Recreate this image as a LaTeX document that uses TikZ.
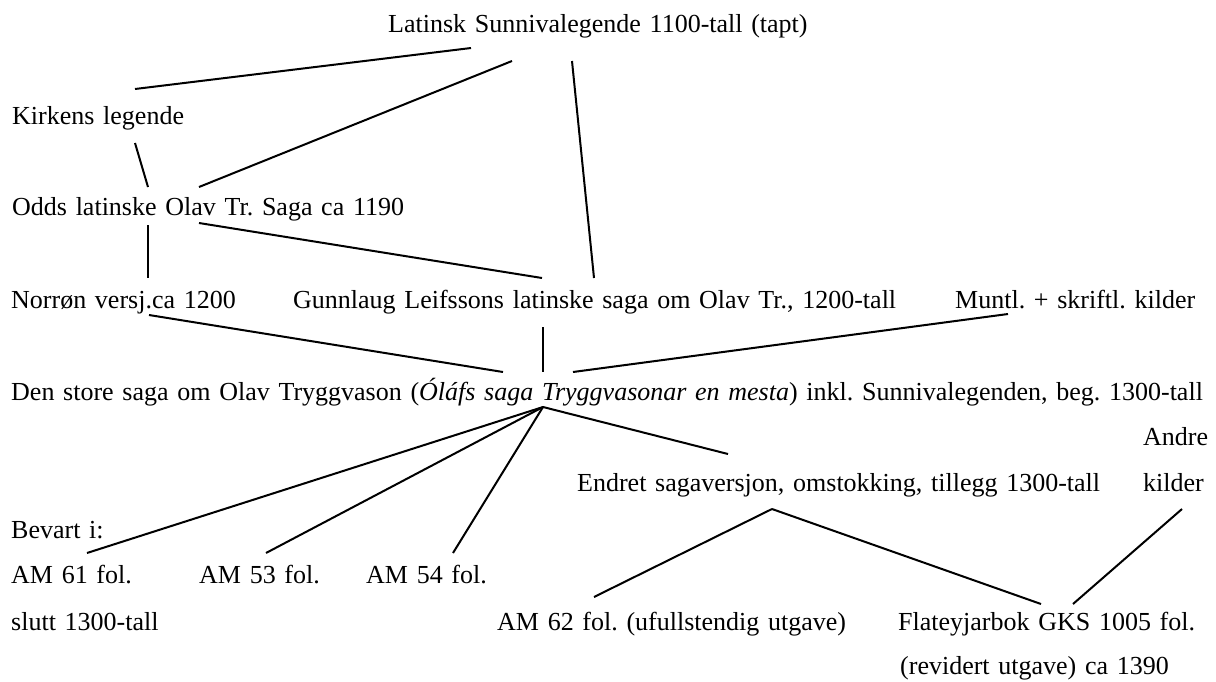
\documentclass[tikz,border=0pt]{standalone}
\usepackage{fontspec}
\setmainfont{Liberation Serif}
\newcommand\mytxtfont{\fontsize{26}{30}\selectfont\spaceskip 8.7pt\relax}
\begin{document}
\frenchspacing
\begin{tikzpicture}[x=1pt,y=-1pt,
  txt/.style={inner sep=0pt,anchor=base west,font=\mytxtfont},
  conn/.style={line width=2pt}]
\useasboundingbox (0,0) rectangle (1216,681);
% text nodes
\node[txt] (lat) at (388,32) {Latinsk Sunnivalegende 1100-tall (tapt)};
\node[txt] (kirk) at (12,124) {Kirkens legende};
\node[txt] (odds) at (12,215) {Odds latinske Olav Tr. Saga ca 1190};
\node[txt] (norr) at (11,308) {Norrøn versj.ca 1200};
\node[txt] (gunn) at (293,308) {Gunnlaug Leifssons latinske saga om Olav Tr., 1200-tall};
\node[txt] (munt) at (955,308) {Muntl. + skriftl. kilder};
\node[txt] (den) at (11,400) {Den store saga om Olav Tryggvason (\textit{Óláfs saga Tryggvasonar en mesta}) inkl. Sunnivalegenden, beg. 1300-tall};
\node[txt] (andre) at (1143,445) {Andre};
\node[txt] (kilder) at (1143,491) {kilder};
\node[txt] (endr) at (577,491) {Endret sagaversjon, omstokking, tillegg 1300-tall};
\node[txt] (bev) at (11,538) {Bevart i:};
\node[txt] (am61) at (11,583) {AM 61 fol.};
\node[txt] (am53) at (199,583) {AM 53 fol.};
\node[txt] (am54) at (366,583) {AM 54 fol.};
\node[txt] (slutt) at (11,630) {slutt 1300-tall};
\node[txt] (am62) at (497,630) {AM 62 fol. (ufullstendig utgave)};
\node[txt] (flat) at (898,630) {Flateyjarbok GKS 1005 fol.};
\node[txt] (rev) at (900,674) {(revidert utgave) ca 1390};
% connector end points
\coordinate (latA) at (471,48);
\coordinate (latB) at (512,61);
\coordinate (latC) at (572,61);
\coordinate (kirkT) at (135,89);
\coordinate (kirkB) at (135,143);
\coordinate (oddsT1) at (148,187);
\coordinate (oddsT2) at (199,187);
\coordinate (oddsB1) at (148,225);
\coordinate (oddsB2) at (199,223);
\coordinate (norrT) at (148,278);
\coordinate (norrB) at (149,315);
\coordinate (gunnT1) at (542,278);
\coordinate (gunnT2) at (594,278);
\coordinate (gunnB) at (543,327);
\coordinate (muntB) at (1008,314);
\coordinate (denT1) at (503,372);
\coordinate (denT2) at (543,372);
\coordinate (denT3) at (573,372);
\coordinate (denB) at (543,407);
\coordinate (am61T) at (87,553);
\coordinate (am53T) at (266,553);
\coordinate (am54T) at (453,553);
\coordinate (endrT) at (728,454);
\coordinate (endrB) at (772,509);
\coordinate (am62T) at (594,597);
\coordinate (flatT1) at (1041,604);
\coordinate (flatT2) at (1073,604);
\coordinate (kildB) at (1182,509);
% connectors
\draw[conn] (latA) -- (kirkT);
\draw[conn] (latB) -- (oddsT2);
\draw[conn] (latC) -- (gunnT2);
\draw[conn] (kirkB) -- (oddsT1);
\draw[conn] (oddsB1) -- (norrT);
\draw[conn] (oddsB2) -- (gunnT1);
\draw[conn] (norrB) -- (denT1);
\draw[conn] (gunnB) -- (denT2);
\draw[conn] (muntB) -- (denT3);
\draw[conn] (denB) -- (am61T);
\draw[conn] (denB) -- (am53T);
\draw[conn] (denB) -- (am54T);
\draw[conn] (denB) -- (endrT);
\draw[conn] (endrB) -- (am62T);
\draw[conn] (endrB) -- (flatT1);
\draw[conn] (kildB) -- (flatT2);
\end{tikzpicture}
\end{document}
